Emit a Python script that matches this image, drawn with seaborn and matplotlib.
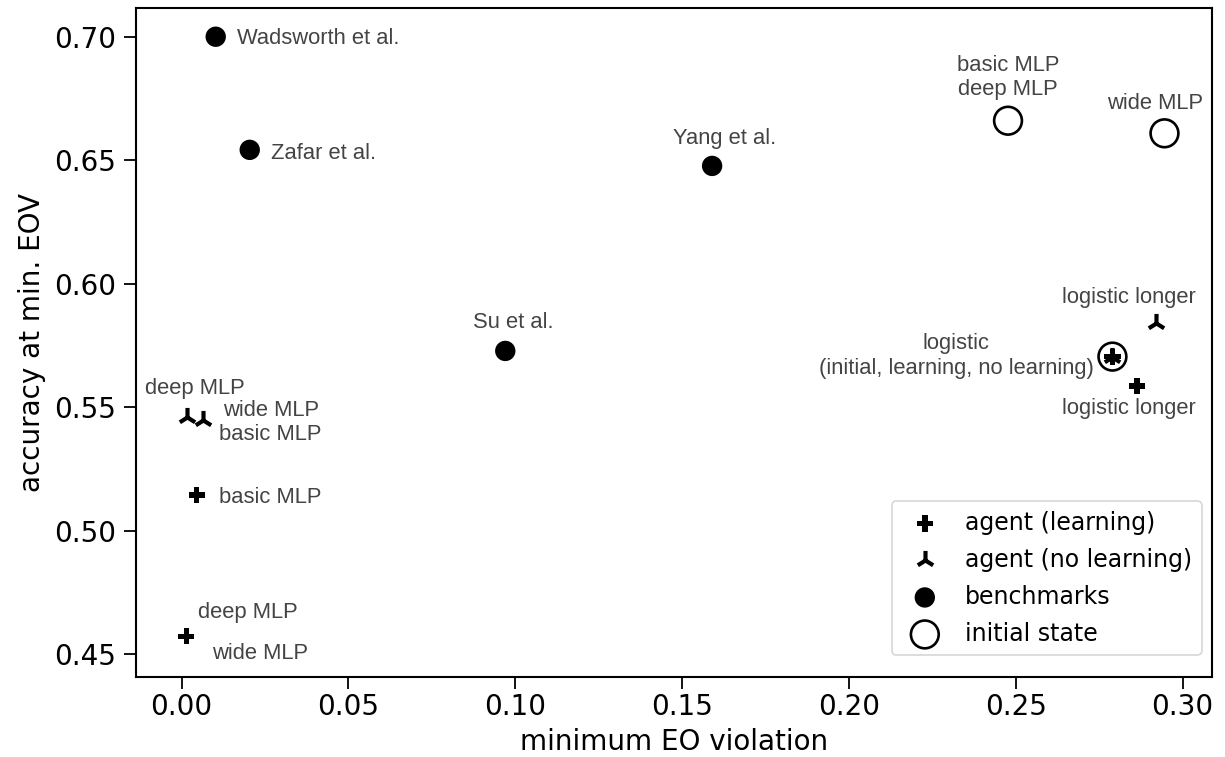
import matplotlib
matplotlib.use("Agg")
import matplotlib.pyplot as plt
import seaborn as sns
import pandas as pd

# agent trained with learning
learn_x = [0.0045, 0.0014, 0.2790, 0.2864]
learn_y = [0.5145, 0.4573, 0.5705, 0.5586]

# agent without learning
nolearn_x = [0.0017, 0.0065, 0.2790, 0.2921]
nolearn_y = [0.5462, 0.5449, 0.5705, 0.5840]

# published benchmarks
bench_names = ["Wadsworth et al.", "Zafar et al.", "Yang et al.", "Su et al."]
bench_x = [0.0102, 0.0204, 0.1590, 0.0970]
bench_y = [0.7000, 0.6542, 0.6477, 0.5728]

# initial states
init_x = [0.2477, 0.2946, 0.2790]
init_y = [0.6660, 0.6609, 0.5705]

# text labels: (text, x, y, dx px, dy px, ha) -- anchored on the last baseline
labels = [
    ("Wadsworth et al.", 0.0102, 0.7000, 21, -7, "left"),
    ("Zafar et al.", 0.0204, 0.6542, 21, -9, "left"),
    ("Yang et al.", 0.1590, 0.6477, 12, 22, "center"),
    ("Su et al.", 0.0970, 0.5728, 8, 23, "center"),
    ("basic MLP\ndeep MLP", 0.2477, 0.6660, 0, 26, "center"),
    ("wide MLP", 0.2946, 0.6609, -9, 24, "center"),
    ("logistic\n(initial, learning, no learning)", 0.2790, 0.5705, -19, -17, "right"),
    ("logistic longer", 0.2921, 0.5840, -27, 20, "center"),
    ("logistic longer", 0.2864, 0.5586, -8, -28, "center"),
    ("deep MLP", 0.0017, 0.5462, 8, 23, "center"),
    ("wide MLP\nbasic MLP", 0.0065, 0.5449, 16, -20, "left"),
    ("basic MLP", 0.0045, 0.5145, 22, -8, "left"),
    ("deep MLP", 0.0014, 0.4573, 12, 18, "left"),
    ("wide MLP", 0.0014, 0.4573, 26, -23, "left"),
]

sns.set_style("ticks")
plt.rcParams["font.family"] = ["DejaVu Sans"]

fig = plt.figure(figsize=(12.25, 7.57), dpi=100)
ax = fig.add_axes([0.111, 0.106, 0.878, 0.884])

df_learn = pd.DataFrame({"x": learn_x, "y": learn_y})
df_nolearn = pd.DataFrame({"x": nolearn_x, "y": nolearn_y})
df_bench = pd.DataFrame({"x": bench_x, "y": bench_y})
df_init = pd.DataFrame({"x": init_x, "y": init_y})

sns.scatterplot(data=df_learn, x="x", y="y", ax=ax, marker="P", s=135,
                color="black", edgecolor="none", label="agent (learning)", zorder=4)
sns.scatterplot(data=df_nolearn, x="x", y="y", ax=ax, marker="2", s=190,
                color="black", linewidth=3.0, label="agent (no learning)", zorder=4)
sns.scatterplot(data=df_bench, x="x", y="y", ax=ax, marker="o", s=215,
                color="black", edgecolor="none", label="benchmarks", zorder=3)
sns.scatterplot(data=df_init, x="x", y="y", ax=ax, marker="o", s=400,
                facecolor="none", edgecolor="black", linewidth=1.9,
                label="initial state", zorder=3)

for text, x, y, dx, dy, ha in labels:
    ax.annotate(text, (x, y), xytext=(dx, dy), textcoords="offset pixels",
                ha=ha, va="baseline", multialignment="center", fontsize=15.8,
                color="#444444", family=["Liberation Sans", "DejaVu Sans"])

ax.set_xlim(-0.0137, 0.3087)
ax.set_ylim(0.4409, 0.7118)
ax.set_xticks([0.0, 0.05, 0.10, 0.15, 0.20, 0.25, 0.30])
ax.set_yticks([0.45, 0.50, 0.55, 0.60, 0.65, 0.70])
ax.xaxis.set_major_formatter(matplotlib.ticker.FormatStrFormatter("%.2f"))
ax.yaxis.set_major_formatter(matplotlib.ticker.FormatStrFormatter("%.2f"))
ax.tick_params(axis="both", labelsize=20, length=8.5, width=1.3, colors="black")
ax.tick_params(axis="x", pad=3)
ax.tick_params(axis="y", pad=6)
for sp in ax.spines.values():
    sp.set_linewidth(1.5)
    sp.set_color("black")
ax.set_xlabel("minimum EO violation", fontsize=20, color="black", labelpad=5)
ax.set_ylabel("accuracy at min. EOV", fontsize=20, color="black", labelpad=6)

leg = ax.legend(loc="lower right", bbox_to_anchor=(0.9907, 0.0324), fontsize=17,
                frameon=True, handletextpad=0.7, labelspacing=0.55,
                borderpad=0.4, borderaxespad=0.0)
leg.get_frame().set_edgecolor("#cccccc")
leg.get_frame().set_linewidth(1.2)
for t in leg.get_texts():
    t.set_color("black")

fig.savefig("out.png", dpi=100)
